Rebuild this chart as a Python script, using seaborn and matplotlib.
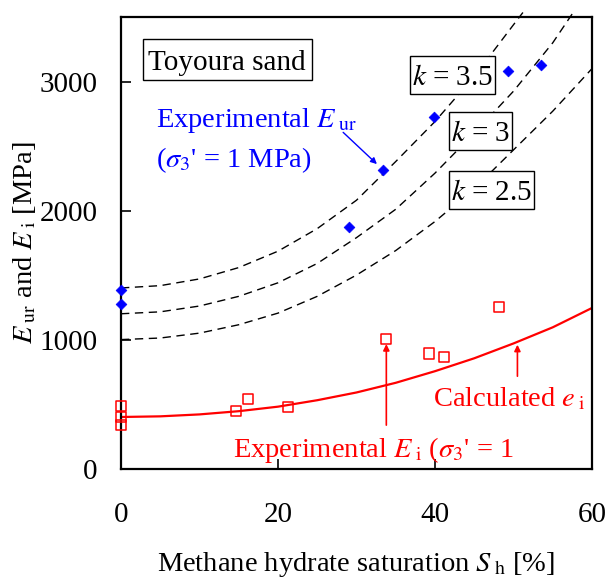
import matplotlib
matplotlib.use("Agg")
import matplotlib.pyplot as plt
from matplotlib.patches import Rectangle
import seaborn as sns

# ---------------- data ----------------
# Experimental E_ur (blue diamonds)
eur_sh = [0, 0, 29.0, 33.4, 39.9, 49.3, 53.5]
eur_val = [1381, 1278, 1876, 2317, 2725, 3082, 3129]

# Experimental E_i (red open squares)
ei_sh = [0, 0, 0, 14.7, 16.2, 21.3, 33.8, 39.2, 41.1, 48.1]
ei_val = [486, 401, 337, 445, 538, 479, 1008, 892, 865, 1251]

# Calculated e_i (red solid line)
calc_sh = [0, 5, 10, 15, 20, 25, 30, 35, 40, 45, 50, 55, 60]
calc_val = [400, 405, 420, 445, 480, 530, 590, 665, 755, 855, 970, 1095, 1245]

# dashed curves k = 2.5, 3, 3.5
k25_sh = [0, 5, 10, 15, 20, 25, 30, 35, 40, 45, 50, 55, 60]
k25_val = [1000, 1012, 1050, 1115, 1205, 1335, 1500, 1690, 1915, 2170, 2470, 2770, 3100]
k30_sh = [0, 5, 10, 15, 20, 25, 30, 35, 40, 45, 50, 55, 57.6]
k30_val = [1200, 1215, 1260, 1335, 1440, 1590, 1790, 2010, 2290, 2600, 2925, 3300, 3535]
k35_sh = [0, 5, 10, 15, 20, 25, 30, 35, 40, 45, 50, 51.2]
k35_val = [1400, 1418, 1470, 1558, 1685, 1860, 2080, 2380, 2690, 3040, 3440, 3535]

x_ticks = [0, 20, 40, 60]
y_ticks = [0, 1000, 2000, 3000]

# label boxes: (text, x0, x1, y0, y1)
box_labels = [
    ("Toyoura sand", 2.76, 24.29, 3013, 3328),
    (r"$k$ = 3.5", 36.82, 47.68, 2903, 3199),
    (r"$k$ = 3", 41.78, 49.85, 2469, 2766),
    (r"$k$ = 2.5", 41.78, 52.65, 2013, 2304),
]

# ---------------- style ----------------
sns.set_style("ticks")
plt.rcParams['font.family'] = ['Liberation Serif', 'DejaVu Serif']
plt.rcParams['mathtext.fontset'] = 'stix'
for key in ['text.color', 'axes.labelcolor', 'xtick.color', 'ytick.color', 'axes.edgecolor']:
    plt.rcParams[key] = 'black'
FS = 20.5

fig = plt.figure(figsize=(6.06, 5.82), dpi=100)
ax = fig.add_axes([121 / 606, 1 - 468.6 / 582, (592 - 121) / 606, (468.6 - 17) / 582])

# dashed k-curves
for xs, ys in [(k25_sh, k25_val), (k30_sh, k30_val), (k35_sh, k35_val)]:
    sns.lineplot(x=xs, y=ys, ax=ax, color='black', lw=1.0, dashes=False,
                 linestyle=(0, (6, 4)), clip_on=False, zorder=2)

# calculated line
sns.lineplot(x=calc_sh, y=calc_val, ax=ax, color='#ff0000', lw=1.6, zorder=2)

# markers
sns.scatterplot(x=eur_sh, y=eur_val, ax=ax, marker='D', s=30, color='#0000ff',
                edgecolor='#0000ff', linewidth=0.5, clip_on=False, zorder=4)
sns.scatterplot(x=ei_sh, y=ei_val, ax=ax, marker='s', s=52, facecolor='none',
                edgecolor='#ff0000', linewidth=1.1, clip_on=False, zorder=4)

ax.set_xlim(0, 60)
ax.set_ylim(0, 3500)
ax.set_xticks(x_ticks)
ax.set_yticks(y_ticks)
ax.set_xticklabels([str(v) for v in x_ticks])
ax.set_yticklabels([str(v) for v in y_ticks])
ax.tick_params(axis='both', direction='in', length=7, width=1.2, labelsize=21,
               top=False, right=False, colors='black')
ax.tick_params(axis='x', pad=24)
ax.tick_params(axis='y', pad=17)
for sp in ax.spines.values():
    sp.set_visible(True)
    sp.set_linewidth(1.6)
    sp.set_color('black')

ax.set_xlabel(r"Methane hydrate saturation $S_{\;\rm h}$ [%]", fontsize=FS)
ax.set_ylabel(r"$E_{\;\rm ur}$ and $E_{\;\rm i}$ [MPa]", fontsize=FS)
ax.xaxis.set_label_coords(0.5, -0.180)
ax.yaxis.set_label_coords(-0.176, 0.5)

# text boxes
for txt, x0, x1, y0, y1 in box_labels:
    ax.add_patch(Rectangle((x0, y0), x1 - x0, y1 - y0, fc='white', ec='black',
                           lw=1.0, zorder=5))
    ax.text((x0 + x1) / 2, (y0 + y1) / 2, txt, fontsize=FS + 0.5, ha='center',
            va='center_baseline', zorder=6)

# blue annotation
blue = '#0000ff'
ax.text(4.5, 2650, r"Experimental $E_{\;\rm ur}$", fontsize=FS, color=blue, ha='left', va='baseline')
ax.text(4.5, 2335, r"($\sigma_3$' = 1 MPa)", fontsize=FS, color=blue, ha='left', va='baseline')
ax.annotate("", xy=(32.6, 2360), xytext=(28.3, 2606),
            arrowprops=dict(arrowstyle='-|>', color=blue, lw=1.0, mutation_scale=9,
                            shrinkA=0, shrinkB=0))

# red annotations
red = '#ff0000'
ax.text(39.8, 479, r"Calculated $e_{\;\rm i}$", fontsize=FS, color=red, ha='left', va='baseline')
ax.annotate("", xy=(50.5, 960), xytext=(50.5, 716),
            arrowprops=dict(arrowstyle='-|>', color=red, lw=1.2, mutation_scale=9,
                            shrinkA=0, shrinkB=0))
ax.text(14.3, 92, r"Experimental $E_{\;\rm i}$ ($\sigma_3$' = 1", fontsize=FS, color=red,
        ha='left', va='baseline')
ax.annotate("", xy=(33.8, 965), xytext=(33.8, 337),
            arrowprops=dict(arrowstyle='-|>', color=red, lw=1.2, mutation_scale=9,
                            shrinkA=0, shrinkB=0))

fig.savefig("out.png", dpi=100)
